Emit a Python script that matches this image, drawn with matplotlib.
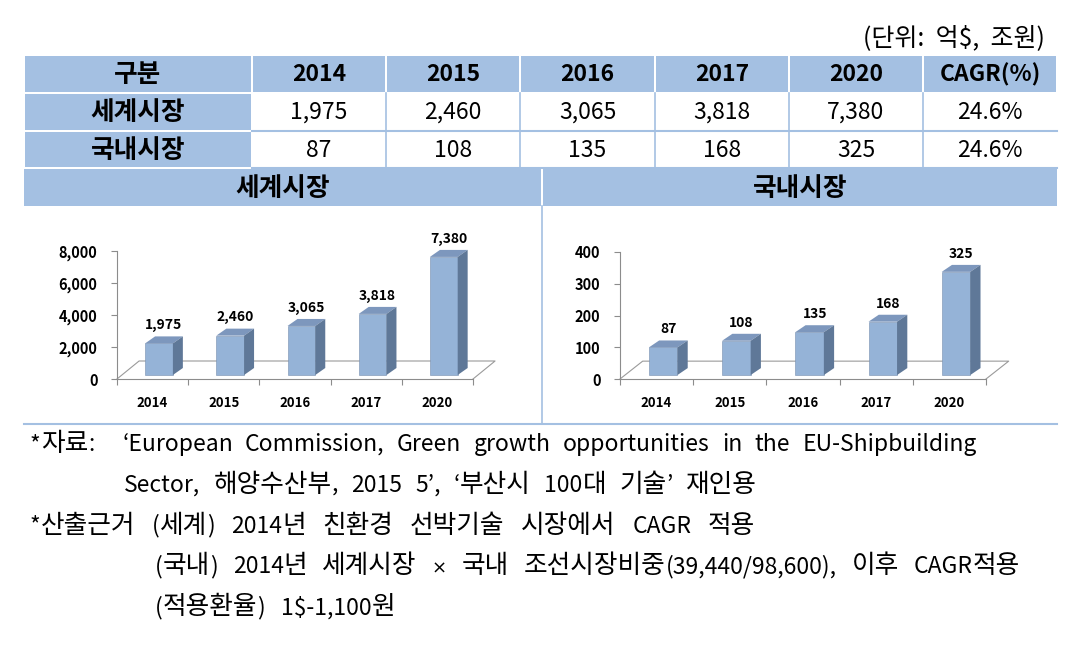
import numpy as np
import matplotlib
matplotlib.use('Agg')
import matplotlib.pyplot as plt
from matplotlib.patches import Rectangle, Polygon

plt.rcParams['font.family'] = ['Noto Sans CJK KR', 'DejaVu Sans']

# data
years = ['2014', '2015', '2016', '2017', '2020']
world = [1975, 2460, 3065, 3818, 7380]
domestic = [87, 108, 135, 168, 325]
cagr = ['24.6%', '24.6%']
header = ['구분'] + years + ['CAGR(%)']
row_names = ['세계시장', '국내시장']
unit_text = '(단위:  억$,  조원)'
# text, left x, right x (justified), line index
notes = [
    ("*자료:", 30, None, 0),
    ("\u2018European Commission, Green growth opportunities in the EU-Shipbuilding", 122, 977, 0),
    ("Sector, 해양수산부, 2015 5\u2019, \u2018부산시 100대 기술\u2019 재인용", 124, 757, 1),
    ("*산출근거 (세계) 2014년 친환경 선박기술 시장에서 CAGR 적용", 30, 755, 2),
    ("(국내) 2014년 세계시장 × 국내 조선시장비중(39,440/98,600), 이후 CAGR적용", 155, 1020, 3),
    ("(적용환율) 1$-1,100원", 155, 395, 4),
]

W, H = 1086, 660
blue = '#a4c0e2'
front_c, side_c, top_c = '#95b3d7', '#5f7898', '#7d97bd'

fig = plt.figure(figsize=(W / 100, H / 100), dpi=100)
bg = fig.add_axes([0, 0, 1, 1])
bg.set_xlim(0, W)
bg.set_ylim(H, 0)
bg.axis('off')
renderer = fig.canvas.get_renderer()

# table
cols = [24, 252, 386, 520, 655, 789, 923, 1057]
rows = [55, 92.5, 130.5, 168]
bg.text(1045, 38, unit_text, ha='right', va='center', fontsize=18)
for i in range(3):
    for j in range(7):
        x0, x1 = cols[j], cols[j + 1]
        y0, y1 = rows[i], rows[i + 1]
        if i == 0 or j == 0:
            bg.add_patch(Rectangle((x0 + 1, y0 + 1), x1 - x0 - 2, y1 - y0 - 2, fc=blue, ec='none'))
        fs = 16.5
        if i == 0:
            txt, wt = header[j], 'bold'
            if j == 0:
                fs = 18.5
        elif j == 0:
            txt, wt, fs = row_names[i - 1], 'bold', 18.5
        elif j == 6:
            txt, wt = cagr[i - 1], 'normal'
        else:
            v = (world if i == 1 else domestic)[j - 1]
            txt, wt = f'{v:,}', 'normal'
        bg.text((x0 + x1) / 2, (y0 + y1) / 2 + 1, txt, ha='center', va='center',
                fontsize=fs, fontweight=wt)
for y in rows[2:]:
    bg.plot([cols[1], cols[-1]], [y, y], color=blue, lw=1.5)
for x in cols[2:-1]:
    bg.plot([x, x], [rows[1], rows[-1]], color=blue, lw=1.2)

# section headers
bg.add_patch(Rectangle((24, 169), 517, 37, fc=blue, ec='none'))
bg.add_patch(Rectangle((542.5, 169), 514.5, 37, fc=blue, ec='none'))
bg.text(283, 188, row_names[0], ha='center', va='center', fontsize=18.5, fontweight='bold')
bg.text(800, 188, row_names[1], ha='center', va='center', fontsize=18.5, fontweight='bold')
bg.plot([541.5, 541.5], [206, 424], color=blue, lw=1.2)
bg.plot([24, 1057], [424, 424], color=blue, lw=1.5)


# notes: hangul a bit larger than latin, words spread like the justified original
def kind(ch):
    if '\uac00' <= ch <= '\ud7a3':
        return 'k'
    if ch == '×':
        return 'x'
    return 'l'


run_style = {'k': (18.5, ['Noto Sans CJK KR']),
             'l': (16.5, ['Noto Sans CJK KR', 'DejaVu Sans']),
             'x': (13, ['DejaVu Sans'])}


def make_word(wd, y):
    parts = []
    cur, ck = '', None
    for ch in wd:
        k = kind(ch)
        if ck is not None and k != ck:
            parts.append((cur, ck))
            cur = ''
        cur += ch
        ck = k
    parts.append((cur, ck))
    objs = []
    for s, k in parts:
        fs, fam = run_style[k]
        t = bg.text(0, y, s, ha='left', va='baseline', fontsize=fs, family=fam)
        objs.append((t, t.get_window_extent(renderer).width))
    return objs


for line, xs, xe, k in notes:
    y = 451 + k * 40.8
    words = [make_word(wd, y) for wd in line.split(' ')]
    widths = [sum(w for _, w in wd) for wd in words]
    if xe is None or len(words) == 1:
        gap = 6
    else:
        gap = (xe - xs - sum(widths)) / (len(words) - 1)
    x = xs
    for wd, wdt in zip(words, widths):
        xx = x
        for t, w in wd:
            t.set_x(xx)
            xx += w
        x += wdt + gap


def draw_chart(ax, vals, ymax, step):
    n = len(vals)
    ax.set_xlim(0, n)
    ax.set_ylim(0, ymax)
    ax.patch.set_alpha(0)
    for s in ['top', 'right']:
        ax.spines[s].set_visible(False)
    for s in ['left', 'bottom']:
        ax.spines[s].set_color('#8c8c8c')
        ax.spines[s].set_linewidth(0.8)
    # floor
    fx, fy = 0.31, ymax * 18 / 128
    ax.plot([0, fx, n + fx, n], [0, fy, fy, 0], color='#9a9a9a', lw=0.8, clip_on=False, zorder=1)
    # 3d bars
    x = np.arange(n) + 0.5 + 0.09
    w, dx = 0.39, 0.14
    dy, b0 = ymax * 7 / 128, ymax * 4 / 128
    ax.bar(x, vals, w, bottom=b0, color=front_c, edgecolor='#7890b0', lw=0.4, zorder=3)
    for xi, v in zip(x, vals):
        top = b0 + v
        xl, xr = xi - w / 2, xi + w / 2
        ax.add_patch(Polygon([(xl, top), (xr, top), (xr + dx, top + dy), (xl + dx, top + dy)],
                             fc=top_c, ec='none', clip_on=False, zorder=3))
        ax.add_patch(Polygon([(xr, b0), (xr, top), (xr + dx, top + dy), (xr + dx, b0 + dy)],
                             fc=side_c, ec='none', clip_on=False, zorder=3))
        ax.annotate(f'{v:,}', (xi + dx / 2, top + dy), xytext=(0, 3), textcoords='offset points',
                    ha='center', va='bottom', fontsize=10, fontweight='bold', annotation_clip=False)
    yt = np.arange(0, ymax + 1, step)
    ax.set_yticks(yt)
    ax.set_yticklabels([f'{int(t):,}' for t in yt], fontsize=10.5, fontweight='bold')
    ax.tick_params(axis='y', length=4, color='#8c8c8c', pad=10)
    ax.set_xticks(np.arange(n + 1))
    ax.set_xticklabels([])
    ax.tick_params(axis='x', which='major', length=4, color='#8c8c8c')
    ax.set_xticks(np.arange(n) + 0.5, minor=True)
    ax.set_xticklabels(years, minor=True, fontsize=9.5, fontweight='bold')
    ax.tick_params(axis='x', which='minor', length=0, pad=12)


def px_axes(x0, x1, y_top, y_bot):
    return fig.add_axes([x0 / W, 1 - y_bot / H, (x1 - x0) / W, (y_bot - y_top) / H])


draw_chart(px_axes(117, 473, 251, 379), world, 8000, 2000)
draw_chart(px_axes(620, 986, 252, 379), domestic, 400, 100)

fig.savefig('out.png', dpi=100)
